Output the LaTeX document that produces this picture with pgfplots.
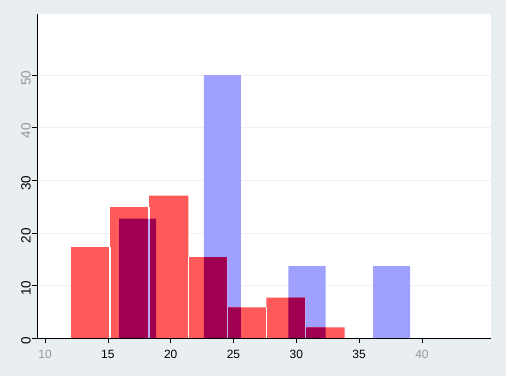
\documentclass[border=0pt]{standalone}
\usepackage{pgfplots}
\pgfplotsset{compat=1.18}
\usepackage{fontspec}
\setmainfont{Liberation Sans}
\definecolor{bgc}{RGB}{233,239,241}
\definecolor{redc}{RGB}{255,90,90}
\definecolor{bluec}{RGB}{160,160,255}
\definecolor{darkc}{RGB}{160,0,80}
\definecolor{lavc}{RGB}{192,168,248}
\definecolor{gridc}{RGB}{240,240,240}
\definecolor{tgrey}{RGB}{150,150,150}
\begin{document}
\begin{tikzpicture}
\fill[bgc] (-37bp,-38bp) rectangle (469bp,338bp);
\begin{axis}[
  at={(0,0)}, anchor=south west,
  width=454bp, height=324bp, scale only axis,
  xmin=9.36, xmax=45.5, ymin=0, ymax=61.6,
  axis lines*=left,
  axis background/.style={fill=white},
  axis on top,
  tick align=outside, major tick length=5bp,
  xtick={10,15,20,25,30,35,40},
  ytick={0,10,20,30,40,50},
  xticklabels={\textcolor{tgrey}{10},15,20,25,30,35,\textcolor{tgrey}{40}},
  yticklabels={0,10,20,30,\textcolor{tgrey}{40},\textcolor{tgrey}{50}},
  tick style={black, line width=0.6bp},
  axis line style={black, line width=0.9bp},
  xticklabel style={font=\fontsize{12}{14}\selectfont, inner sep=1bp, yshift=-6bp},
  yticklabel style={font=\fontsize{13.5}{16}\selectfont, rotate=90, anchor=south, inner sep=1bp, xshift=-3bp},
]
% faint grid lines
\pgfplotsinvokeforeach{10,20,30,40,50}{
  \addplot[gridc, line width=0.6bp, forget plot] coordinates {(9.36,#1) (45.5,#1)};
}
% blue histogram
\addplot[ybar, bar width=2.95, bar shift=0, fill=bluec, draw=none, forget plot]
  coordinates {(17.375,22.7) (24.115,50) (30.855,13.65) (37.595,13.65)};
% red histogram
\addplot[ybar interval, fill=redc, draw=none, forget plot]
  coordinates {(12.07,17.3) (15.18,24.9) (18.29,27.05) (21.40,15.4) (24.51,5.8) (27.62,7.7) (30.73,2.0) (33.84,2.0)};
% overlap regions
\addplot[ybar interval, fill=darkc, draw=none, forget plot]
  coordinates {(15.90,22.7) (18.29,22.7) (18.85,22.7)};
\addplot[ybar interval, fill=darkc, draw=none, forget plot]
  coordinates {(22.64,15.4) (24.51,5.8) (25.59,5.8)};
\addplot[ybar interval, fill=darkc, draw=none, forget plot]
  coordinates {(29.38,7.7) (30.73,2.0) (32.33,2.0)};
% separators between red bins (white over red, lavender over blue)
\addplot[white, line width=1.4bp, forget plot] coordinates {(15.18,0) (15.18,17.3)};
\addplot[white, line width=1.4bp, forget plot] coordinates {(18.29,22.7) (18.29,24.9)};
\addplot[white, line width=1.4bp, forget plot] coordinates {(21.40,0) (21.40,15.4)};
\addplot[white, line width=1.4bp, forget plot] coordinates {(27.62,0) (27.62,5.8)};
\addplot[lavc, line width=1.4bp, forget plot] coordinates {(18.29,0) (18.29,22.7)};
\addplot[lavc, line width=1.4bp, forget plot] coordinates {(24.51,0) (24.51,15.4)};
\addplot[lavc, line width=1.4bp, forget plot] coordinates {(30.73,0) (30.73,7.7)};
\end{axis}
\end{tikzpicture}
\end{document}
